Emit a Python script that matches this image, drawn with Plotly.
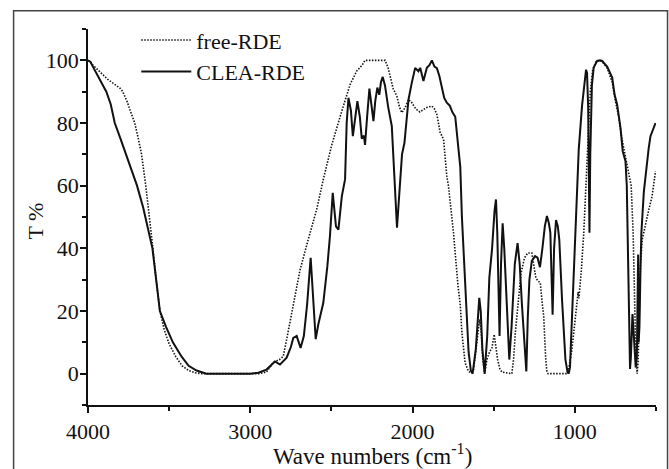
import plotly.graph_objects as go

# free-RDE (dotted) spectrum: wavenumber (cm-1) and transmittance (%)
free_wn = [4000, 3985, 3970, 3948, 3920, 3880, 3840, 3800, 3786, 3760, 3740, 3712, 3690, 3670, 3644,
           3625, 3610, 3600, 3580, 3557, 3530, 3500, 3460, 3420, 3380, 3340, 3300, 2950, 2900, 2858,
           2820, 2797, 2776, 2735, 2694, 2643, 2591, 2550, 2498, 2436, 2385, 2344, 2310, 2293, 2169,
           2150, 2139, 2120, 2097, 2080, 2066, 2045, 2025, 2005, 1980, 1955, 1933, 1910, 1881, 1865,
           1850, 1830, 1809, 1789, 1779, 1748, 1720, 1706, 1696, 1676, 1655, 1640, 1625, 1610, 1595,
           1587, 1578, 1568, 1556, 1542, 1525, 1511, 1497, 1485, 1476, 1462, 1449, 1388, 1377, 1367,
           1346, 1332, 1310, 1290, 1265, 1250, 1240, 1225, 1213, 1200, 1192, 1180, 1172, 1165, 1050,
           1040, 1020, 1007, 987, 980, 975, 968, 960, 945, 925, 915, 905, 890, 870, 845,
           830, 800, 770, 750, 730, 710, 688, 668, 653, 641, 633, 625, 620, 616, 610,
           606, 600, 596, 585, 565, 544, 524, 503]
free_t = [100, 99.5, 98.5, 97.5, 96, 94, 92.5, 91, 90, 87, 84, 80, 75, 70, 60,
          52, 46, 40, 30, 20, 14, 9.5, 5.5, 2.5, 1, 0.3, 0, 0, 0.5, 3.6,
          4.5, 5.5, 10.9, 21.5, 33, 42.8, 52.4, 62, 73, 83.8, 92.3, 96.6, 98.5, 100, 100,
          97.5, 95, 91, 88.6, 85, 83.3, 85, 87.5, 86.5, 84.5, 83.5, 84.3, 85, 85.4, 84.5,
          82.7, 77, 74.8, 63, 60, 45, 28, 22, 13, 3.4, 0.7, 0.3, 1, 8, 15,
          17.3, 14, 5, 0, 4.5, 7, 8.2, 12.5, 8, 4.5, 1.5, 0.5, 0, 5, 13,
          24.7, 32, 37, 38.5, 38.5, 34, 30.5, 29.5, 29, 22, 18.3, 5, 0.5, 0, 0,
          1, 7, 13, 23.6, 26, 24, 28, 33, 45, 66, 77, 90, 97, 99.5, 100,
          99.5, 97.5, 93, 87, 82, 75, 69.4, 64, 60, 45, 23.6, 8, 2.3, 0, 4,
          13, 30, 34, 42.8, 48, 52.4, 56.7, 64.6]

# CLEA-RDE (solid) spectrum
clea_wn = [4000, 3985, 3970, 3950, 3920, 3887, 3860, 3835, 3800, 3760, 3720, 3698, 3660, 3630, 3603,
           3580, 3557, 3520, 3477, 3424, 3380, 3331, 3270, 3000, 2950, 2900, 2879, 2848, 2817, 2800,
           2776, 2750, 2735, 2714, 2700, 2690, 2670, 2650, 2628, 2612, 2597, 2581, 2550, 2525, 2509,
           2492, 2472, 2457, 2436, 2416, 2406, 2395, 2380, 2368, 2355, 2340, 2325, 2313, 2300, 2293,
           2280, 2266, 2241, 2230, 2217, 2205, 2195, 2184, 2170, 2150, 2128, 2115, 2108, 2096, 2085,
           2065, 2050, 2035, 2025, 2005, 1984, 1964, 1953, 1933, 1912, 1895, 1881, 1865, 1850, 1835,
           1820, 1805, 1789, 1770, 1755, 1737, 1717, 1706, 1696, 1676, 1655, 1641, 1630, 1610, 1595,
           1589, 1580, 1570, 1556, 1540, 1527, 1510, 1495, 1486, 1478, 1464, 1455, 1445, 1435, 1420,
           1404, 1390, 1370, 1353, 1340, 1326, 1310, 1299, 1290, 1280, 1265, 1245, 1230, 1215, 1200,
           1185, 1172, 1160, 1151, 1137, 1128, 1116, 1105, 1096, 1079, 1058, 1045, 1038, 1030, 1017,
           997, 976, 956, 940, 931, 925, 918, 910, 905, 895, 884, 863, 845, 832, 801,
           770, 755, 740, 719, 705, 699, 688, 680, 675, 670, 665, 660, 655, 650, 645,
           640, 632, 625, 618, 612, 610, 607, 602, 595, 590, 575, 560, 545, 534, 520, 503]
clea_t = [100, 99.5, 98, 96, 93, 90, 86, 80, 75, 69, 63, 60, 53, 46, 40,
          30, 20, 15, 10, 5.5, 2.5, 1, 0, 0, 0.3, 1.3, 2.3, 3.9, 2.9, 3.8,
          5.1, 8.5, 11.4, 12, 9.5, 8.2, 12, 22, 37, 25, 11, 15.7, 22.6, 34.3, 44,
          57.7, 47, 46, 56.6, 62, 80, 88, 84, 75.8, 82, 87, 82, 75, 76, 73,
          82, 91, 80.6, 87, 91.3, 89, 93, 94.7, 92, 85, 79, 65, 55.6, 46.6, 55,
          70, 73.7, 82, 87.5, 92.8, 97.6, 96.5, 97.6, 93.4, 97.6, 98.5, 100, 98, 97.5, 95,
          91.8, 88, 86.5, 85.5, 83.5, 82, 71.6, 66, 50, 30, 7, 1, 0, 8, 22,
          24.2, 20, 8, 0, 12, 30.6, 40, 52, 55.6, 45, 12, 35, 48, 40, 22,
          4.5, 15, 35, 41.7, 35, 22, 8, 0.7, 18, 30, 36, 37.5, 37, 34, 40,
          47, 50.3, 48, 45, 18.8, 40, 49, 47, 42.8, 23.6, 4.5, 0.5, 0, 2, 18,
          45, 71.6, 85.4, 93, 97, 96, 85, 45, 70, 92, 97.7, 99.8, 100, 99.8, 98,
          94.5, 89, 86, 78.5, 71, 70, 67.8, 60, 45, 25, 8, 1.5, 5, 17, 19,
          15, 5, 2, 5, 36, 38, 10, 15, 35, 45, 58, 66, 72, 75.8, 78, 80]

x_tick_vals = [4000, 3000, 2000, 1000]
y_tick_vals = [0, 20, 40, 60, 80, 100]

FONT = "Liberation Serif"
INK = "#111111"

fig = go.Figure()
fig.add_trace(go.Scatter(x=free_wn, y=free_t, mode="lines", name="free-RDE",
                         line=dict(color=INK, width=1.6, dash="1.5px,1.5px")))
fig.add_trace(go.Scatter(x=clea_wn, y=clea_t, mode="lines", name="CLEA-RDE",
                         line=dict(color=INK, width=2)))

fig.update_layout(
    width=669, height=469,
    margin=dict(l=88, r=13, t=29, b=64),
    paper_bgcolor="white", plot_bgcolor="white",
    font=dict(family=FONT, size=22, color=INK),
    showlegend=True,
    legend=dict(x=0.085, y=1.026, xanchor="left", yanchor="top",
                bgcolor="rgba(0,0,0,0)", borderwidth=0,
                font=dict(family=FONT, size=22, color=INK),
                itemwidth=50, tracegroupgap=0),
    xaxis=dict(range=[4000, 500], showline=True, linecolor=INK, linewidth=1.5,
               ticks="outside", ticklen=6, tickwidth=1.5, tickcolor=INK,
               tickvals=x_tick_vals, ticktext=[str(v) for v in x_tick_vals],
               minor=dict(dtick=500, tick0=0, ticks="outside", ticklen=4, tickwidth=1.5, tickcolor=INK),
               showgrid=False, zeroline=False, mirror=False,
               tickfont=dict(family=FONT, size=22, color=INK)),
    yaxis=dict(range=[-10, 110], showline=True, linecolor=INK, linewidth=1.5,
               ticks="outside", ticklen=6, tickwidth=1.5, tickcolor=INK,
               tickvals=y_tick_vals, ticktext=[str(v) for v in y_tick_vals],
               ticklabelstandoff=-3,
               minor=dict(dtick=10, tick0=0, ticks="outside", ticklen=4, tickwidth=1.5, tickcolor=INK),
               showgrid=False, zeroline=False, mirror=False,
               tickfont=dict(family=FONT, size=22, color=INK)),
    annotations=[
        dict(text="Wave numbers (cm<sup>-1</sup>)", xref="paper", yref="paper",
             x=0.5, y=-0.132, xanchor="center", yanchor="middle", showarrow=False,
             font=dict(family=FONT, size=23, color=INK)),
        dict(text="T %", xref="paper", yref="paper", x=-0.092, y=0.49,
             xanchor="center", yanchor="middle", textangle=-90, showarrow=False,
             font=dict(family=FONT, size=22, color=INK)),
    ],
    shapes=[dict(type="rect", xref="paper", yref="paper", x0=-0.131, x1=1.0203,
                 y0=-0.2, y1=1.0487, line=dict(color="#444444", width=1.5))],
)

fig.write_html("out.html", config={"displayModeBar": False},
               post_script="document.body.style.margin='0';document.body.style.padding='0';")
